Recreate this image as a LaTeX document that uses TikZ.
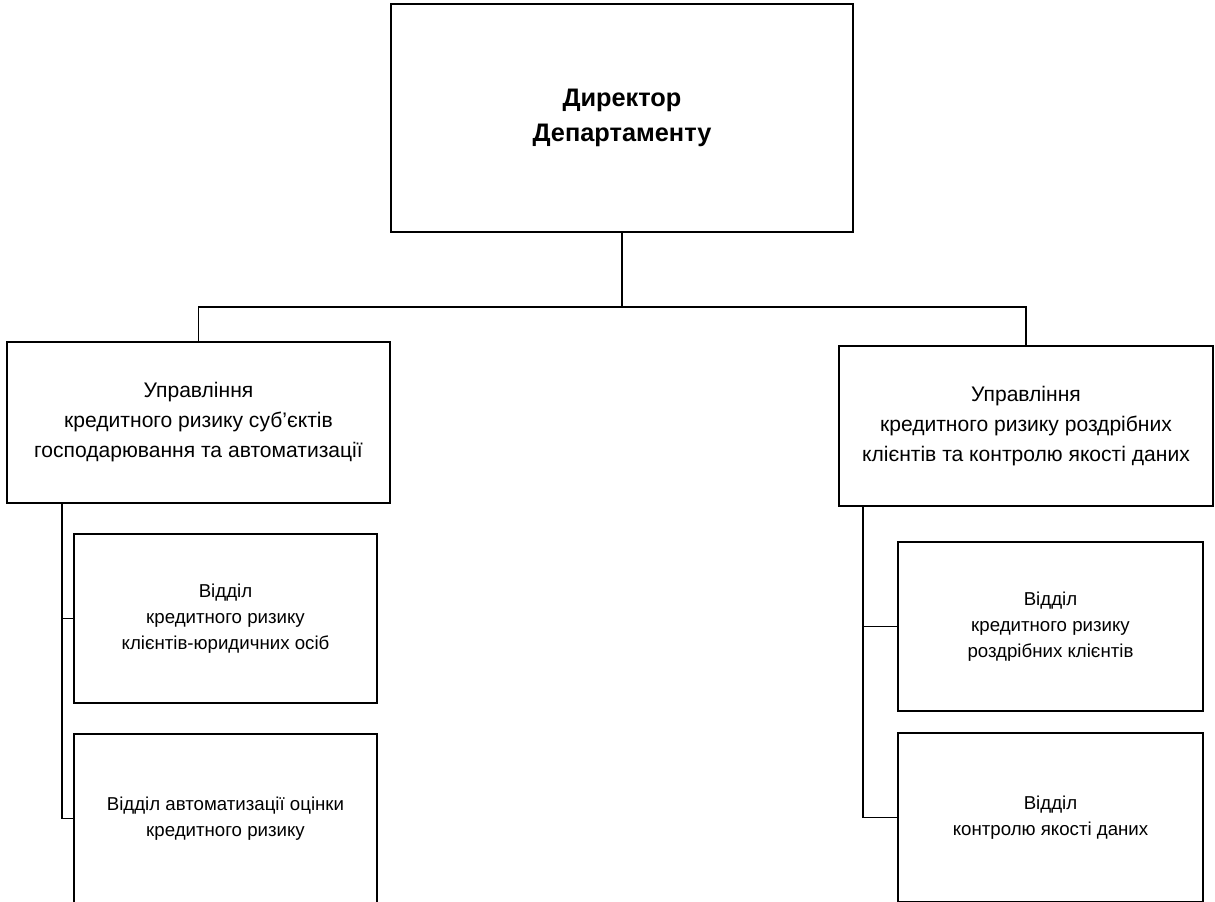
\documentclass[tikz,border=0pt]{standalone}
\usepackage{fontspec}
\setmainfont{Liberation Sans}

\begin{document}
\begin{tikzpicture}[x=0.75pt, y=-0.75pt,
    dirbox/.style={draw, line width=1.4pt, align=center, inner sep=0pt,
        minimum width=346.5pt, minimum height=171pt,
        font=\fontsize{19}{26}\selectfont\bfseries},
    mgmtbox/.style={draw, line width=1.4pt, align=center, inner sep=0pt,
        minimum height=120.5pt, font=\fontsize{15.8}{22.5}\selectfont},
    deptbox/.style={draw, line width=1.4pt, align=center, inner sep=0pt,
        minimum height=126.75pt, font=\fontsize{14}{19.5}\selectfont},
    conn/.style={line width=1.2pt}]
            \useasboundingbox (0,0) rectangle (1215,901);

            \node[dirbox] (D) at (622,118) {Директор\\Департаменту};

            \node[mgmtbox, minimum width=287.25pt] (U1) at (198.5,422.5)
                {Управління\\кредитного ризику суб’єктів\\господарювання та автоматизації};
            \node[mgmtbox, minimum width=280.5pt] (U2) at (1026,426)
                {Управління\\кредитного ризику роздрібних\\клієнтів та контролю якості даних};

            \node[deptbox, minimum width=227.25pt] (V1) at (225.5,618.5)
                {Відділ\\кредитного ризику\\клієнтів-юридичних осіб};
            \node[deptbox, minimum width=227.25pt] (V2) at (225.5,818.5)
                {Відділ автоматизації оцінки\\кредитного ризику};
            \node[deptbox, minimum width=228.75pt] (V3) at (1050.5,626.5)
                {Відділ\\кредитного ризику\\роздрібних клієнтів};
            \node[deptbox, minimum width=228.75pt] (V4) at (1050.5,817.5)
                {Відділ\\контролю якості даних};

            \coordinate (bus) at (622,307);
            \coordinate (Lx) at (62,0);
            \coordinate (Rx) at (863,0);

            \draw[conn] (D.south) -- (bus);
            \draw[conn] (U1.north) |- (bus) -| (U2.north);

            \draw[conn] (U1.south -| Lx) |- (V1.west);
            \draw[conn] (U1.south -| Lx) |- (V2.west);
            \draw[conn] (U2.south -| Rx) |- (V3.west);
            \draw[conn] (U2.south -| Rx) |- (V4.west);

        \end{tikzpicture}
\end{document}
